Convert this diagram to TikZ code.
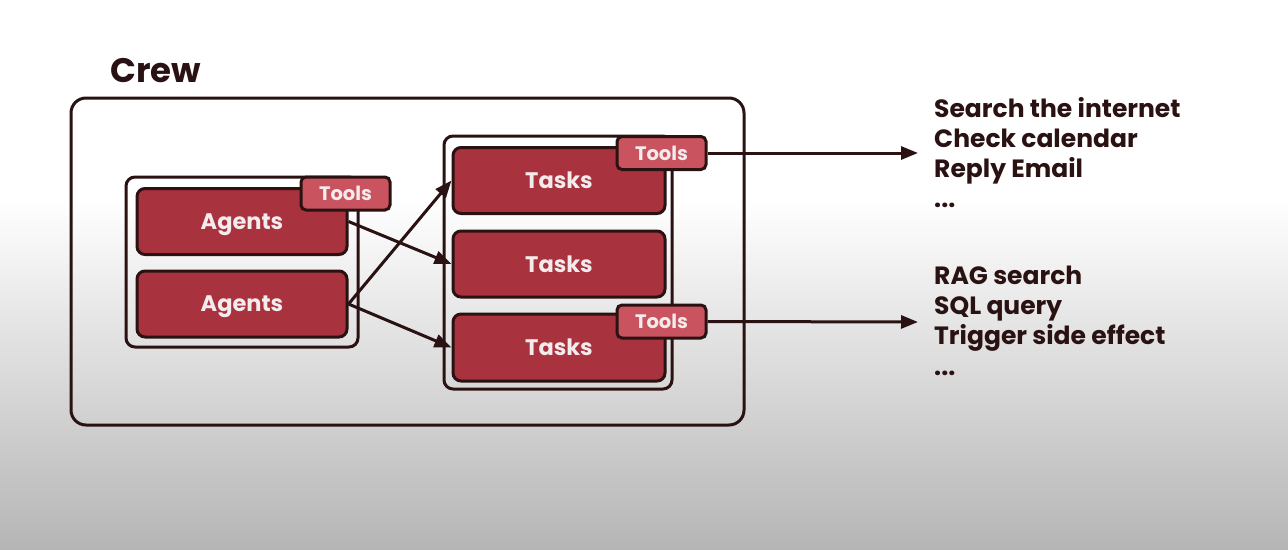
\documentclass[tikz,border=0pt]{standalone}
\usepackage{fontspec}
\setmainfont{Poppins}
\usepackage{xcolor}
\usetikzlibrary{arrows.meta}
\definecolor{inkline}{HTML}{2A1212}
\definecolor{boxred}{HTML}{A8323E}
\definecolor{toolred}{HTML}{C9545F}
\definecolor{boxtext}{HTML}{F4ECEC}

\begin{document}
\begin{tikzpicture}[x=1pt,y=-1pt,
  redbox/.style={draw=inkline,line width=3pt,fill=boxred,rounded corners=8pt,
    minimum width=210pt,minimum height=66pt,text depth=0pt,text=boxtext,font=\bfseries\fontsize{22.5}{26}\selectfont},
  toolbox/.style={draw=inkline,line width=3pt,fill=toolred,rounded corners=5pt,
    minimum width=89pt,minimum height=33pt,text=boxtext,font=\bfseries\fontsize{19.5}{22}\selectfont},
  holder/.style={draw=inkline,line width=3pt,rounded corners=9pt},
  arr/.style={draw=inkline,line width=3pt,-{Triangle[length=17pt,width=13pt]}},
  usecase/.style={anchor=base west,inner sep=0pt,text=inkline,font=\bfseries\fontsize{25}{30}\selectfont}]
\fill[white] (0,0) rectangle (1288,200);
\shade[top color=white,bottom color=black!29] (0,200) rectangle (1288,549);
\useasboundingbox (0,0) rectangle (1288,549);
\node[anchor=base west,inner sep=0pt,text=inkline,font=\bfseries\fontsize{34}{38}\selectfont] (crewlabel) at (110,82) {Crew};
\draw[holder,rounded corners=15pt] (71,98) rectangle (744,425);
\draw[holder] (126,177) rectangle (358,347);
\draw[holder] (444,136) rectangle (672,389);
\node[redbox] (agent1) at (242,221.5) {Agents};
\node[redbox] (agent2) at (242,304) {Agents};
\node[toolbox] (agenttools) at (345.5,193.5) {Tools};
\node[redbox,minimum width=212pt] (task1) at (559,180.5) {Tasks};
\node[redbox,minimum width=212pt] (task2) at (559,264) {Tasks};
\node[redbox,minimum width=212pt,minimum height=67pt] (task3) at (559,347.5) {Tasks};
\node[toolbox] (tasktools1) at (661.5,153) {Tools};
\node[toolbox] (tasktools3) at (661.5,321.5) {Tools};
\coordinate (out1) at (918,153);
\coordinate (out3) at (918,322);
\draw[arr] (agent1.east) -- (task2.west);
\draw[arr] (agent2.east) -- (task1.west);
\draw[arr] (agent2.east) -- (task3.west);
\draw[arr] (tasktools1.east) -- (out1);
\draw[arr] (tasktools3.east) -- (out3);
\node[usecase] (use1a) at (934,117) {Search the internet};
\node[usecase] (use1b) at (934,147) {Check calendar};
\node[usecase] (use1c) at (934,177) {Reply Email};
\node[usecase] (use1d) at (934,207) {...};
\node[usecase] (use3a) at (934,284) {RAG search};
\node[usecase] (use3b) at (934,314) {SQL query};
\node[usecase] (use3c) at (934,344) {Trigger side effect};
\node[usecase] (use3d) at (934,375) {...};
\end{tikzpicture}
\end{document}
